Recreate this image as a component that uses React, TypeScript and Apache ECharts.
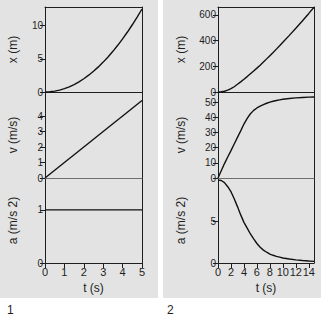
import { useEffect, useRef } from 'react';
import * as echarts from 'echarts';

// Case 1: constant acceleration
const t1x = [0, 0.25, 0.5, 0.75, 1, 1.25, 1.5, 1.75, 2, 2.25, 2.5, 2.75, 3, 3.25, 3.5, 3.75, 4, 4.25, 4.5, 4.75, 5];
const x1 = [0, 0.03125, 0.125, 0.28125, 0.5, 0.78125, 1.125, 1.53125, 2, 2.53125, 3.125, 3.78125, 4.5, 5.28125, 6.125, 7.03125, 8, 9.03125, 10.125, 11.28125, 12.5];
const t1 = [0, 5];
const v1 = [0, 5];
const a1 = [1, 1];

// Case 2: fall with drag, approaching terminal velocity
const t2 = [0, 0.5, 1, 1.5, 2, 2.5, 3, 3.5, 4, 4.5, 5, 5.5, 6, 6.5, 7, 7.5, 8, 8.5, 9, 9.5, 10, 11, 12, 13, 14, 14.8];
const x2 = [0, 1.5, 6, 14, 26, 41, 60, 79, 99, 120, 142, 164, 186, 209, 233, 258, 283, 308, 334, 360, 387, 441, 496, 553, 612, 660];
const v2 = [0, 4.8, 9.5, 13.8, 18, 22.4, 26.7, 31, 35.5, 39.3, 42.3, 44.5, 46.1, 47.3, 48.3, 49.2, 49.9, 50.5, 51, 51.4, 51.8, 52.3, 52.7, 53, 53.2, 53.3];
const a2 = [10, 9.95, 9.7, 9.2, 8.6, 7.75, 6.8, 5.8, 4.9, 4.2, 3.5, 2.9, 2.35, 1.9, 1.55, 1.3, 1.08, 0.93, 0.8, 0.7, 0.6, 0.48, 0.38, 0.3, 0.24, 0.2];

// Tick labels
const tTicks1 = [0, 1, 2, 3, 4, 5];
const xTicks1 = [0, 5, 10];
const vTicks1 = [0, 1, 2, 3, 4];
const aTicks1 = [0, 1];
const tTicks2 = [0, 2, 4, 6, 8, 10, 12, 14];
const xTicks2 = [0, 200, 400, 600];
const vTicks2 = [0, 10, 20, 30, 40, 50];
const aTicks2 = [0, 5];

const yNames = ['x (m)', 'v (m/s)', 'a (m/s 2)'];
const panelLabels = ['1', '2'];

const FONT = 'Liberation Sans, Arial, sans-serif';
const DARK = '#1e1e1e';

export default function App() {
  const ref = useRef<HTMLDivElement>(null);

  useEffect(() => {
    if (!ref.current) return;
    const chart = echarts.init(ref.current, null, { renderer: 'svg' });

    const grids: any[] = [];
    const xAxes: any[] = [];
    const yAxes: any[] = [];
    const series: any[] = [];

    const panels = [
      {
        left: 45, width: 97, tMax: 5, tTicks: tTicks1,
        rows: [
          { max: 12.8, ticks: xTicks1, t: t1x, data: x1 },
          { max: 5.55, ticks: vTicks1, t: t1, data: v1 },
          { max: 1.6, ticks: aTicks1, t: t1, data: a1 },
        ],
        nameGap: 26,
      },
      {
        left: 218, width: 96, tMax: 14.8, tTicks: tTicks2,
        rows: [
          { max: 662, ticks: xTicks2, t: t2, data: x2 },
          { max: 56.6, ticks: vTicks2, t: t2, data: v2 },
          { max: 10.25, ticks: aTicks2, t: t2, data: a2 },
        ],
        nameGap: 31,
      },
    ];
    const tops = [7, 92, 178];
    const heights = [85, 86, 85];

    const yLabel = { fontSize: 10, lineHeight: 10, color: DARK, fontFamily: FONT, margin: 2 };
    const tLabel = { fontSize: 11, color: DARK, fontFamily: FONT, margin: 3 };
    const nameStyle = { fontSize: 12, color: DARK, fontFamily: FONT };
    const hidden = { show: false };

    panels.forEach((p) => {
      p.rows.forEach((row, r) => {
        const gi = grids.length;
        grids.push({ left: p.left, width: p.width, top: tops[r], height: heights[r], show: false });

        const bottomX = xAxes.length;
        xAxes.push({
          type: 'value', gridIndex: gi, min: 0, max: p.tMax, position: 'bottom',
          axisLine: { show: true, onZero: false, lineStyle: { color: r === 1 ? '#6e6e6e' : DARK, width: 1 } },
          axisTick: r === 2
            ? { show: true, length: 5, lineStyle: { color: DARK }, customValues: p.tTicks }
            : hidden,
          axisLabel: r === 2 ? { ...tLabel, customValues: p.tTicks } : hidden,
          splitLine: hidden,
          name: r === 2 ? 't (s)' : '',
          nameLocation: 'middle',
          nameGap: 19,
          nameTextStyle: nameStyle,
        });
        if (r === 0) {
          xAxes.push({
            type: 'value', gridIndex: gi, min: 0, max: p.tMax, position: 'top',
            axisLine: { show: true, onZero: false, lineStyle: { color: DARK, width: 1 } },
            axisTick: hidden, axisLabel: hidden, splitLine: hidden,
          });
        }

        const leftY = yAxes.length;
        yAxes.push({
          type: 'value', gridIndex: gi, min: 0, max: row.max, position: 'left',
          axisLine: { show: true, onZero: false, lineStyle: { color: DARK, width: 1 } },
          axisTick: { show: true, length: 5, lineStyle: { color: DARK }, customValues: row.ticks },
          axisLabel: { ...yLabel, customValues: row.ticks },
          splitLine: hidden,
          name: yNames[r],
          nameLocation: 'middle',
          nameGap: p.nameGap,
          nameTextStyle: nameStyle,
        });
        yAxes.push({
          type: 'value', gridIndex: gi, min: 0, max: row.max, position: 'right',
          axisLine: { show: true, onZero: false, lineStyle: { color: DARK, width: 1 } },
          axisTick: hidden, axisLabel: hidden, splitLine: hidden,
        });

        series.push({
          type: 'line',
          xAxisIndex: bottomX,
          yAxisIndex: leftY,
          data: row.t.map((tv, i) => [tv, row.data[i]]),
          showSymbol: false,
          symbol: 'none',
          smooth: false,
          lineStyle: { color: '#111', width: 1.4 },
          silent: true,
        });
      });
    });

    chart.setOption({
      animation: false,
      backgroundColor: '#ffffff',
      grid: grids,
      xAxis: xAxes,
      yAxis: yAxes,
      series,
      graphic: [
        { type: 'rect', z: -10, silent: true, shape: { x: 0, y: 0, width: 158, height: 298 }, style: { fill: '#e3e3e3' } },
        { type: 'rect', z: -10, silent: true, shape: { x: 163, y: 0, width: 158, height: 298 }, style: { fill: '#e3e3e3' } },
        { type: 'text', x: 7, y: 304, style: { text: panelLabels[0], fontSize: 12, fill: DARK, fontFamily: FONT } },
        { type: 'text', x: 167, y: 304, style: { text: panelLabels[1], fontSize: 12, fill: DARK, fontFamily: FONT } },
      ],
    });

    return () => chart.dispose();
  }, []);

  return (
    <div
      ref={ref}
      style={{ position: 'absolute', left: 0, top: 0, width: 321, height: 317 }}
    />
  );
}
